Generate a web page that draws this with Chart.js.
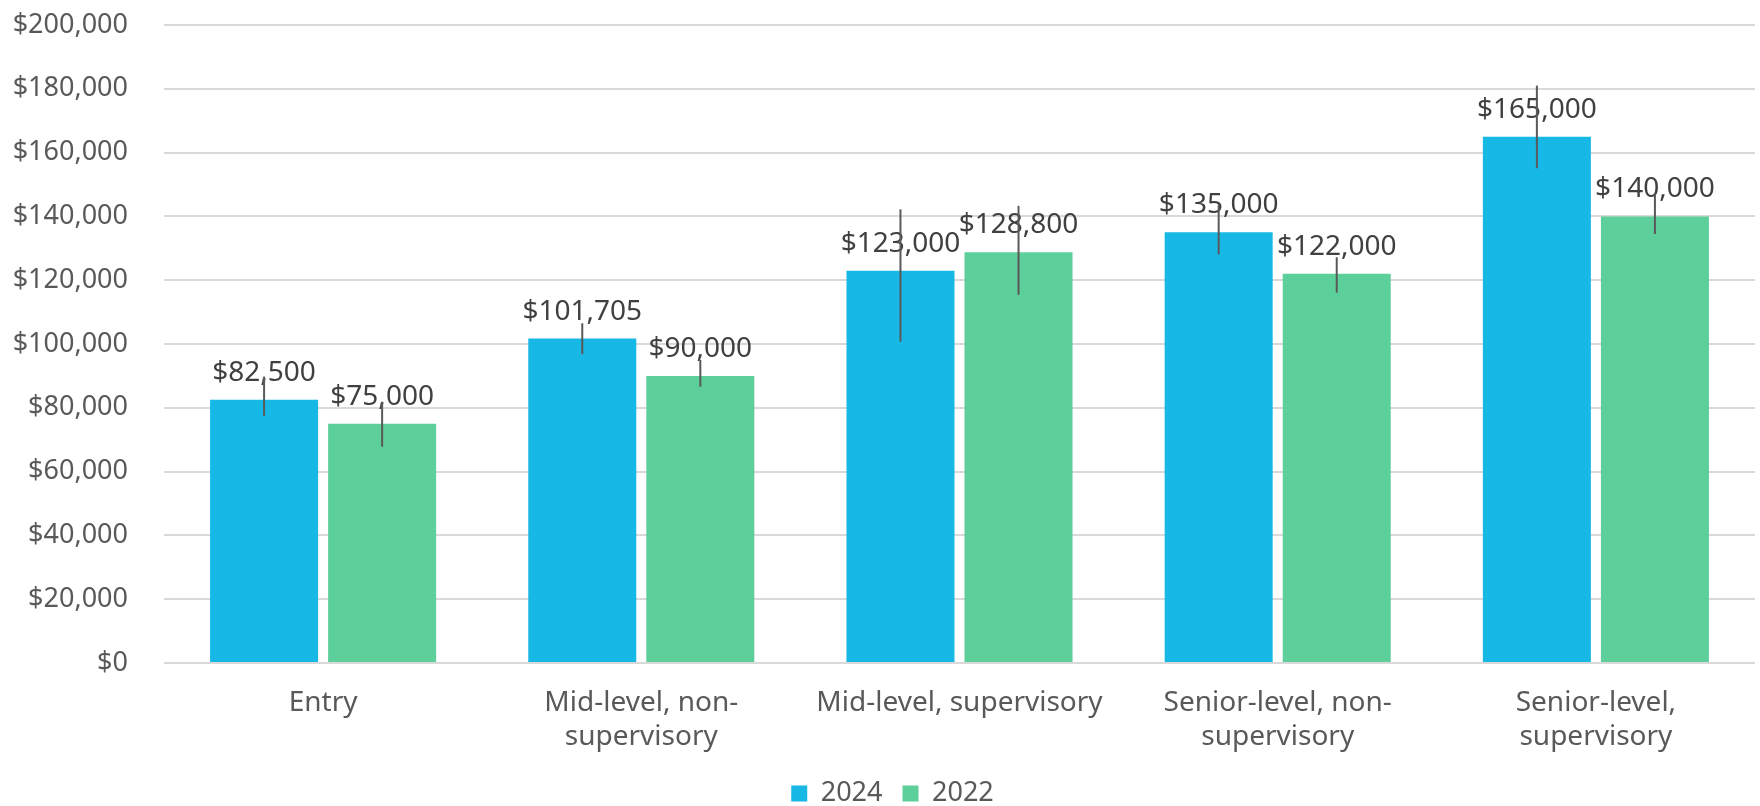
<!DOCTYPE html>
<html>
<head>
<meta charset="utf-8">
<script src="https://cdn.jsdelivr.net/npm/chart.js@4.4.1/dist/chart.umd.min.js"></script>
<style>
  html, body { margin: 0; padding: 0; background: #fff; }
  #wrap { width: 1760px; height: 806px; }
</style>
</head>
<body>
<div id="wrap"><canvas id="salaryChart"></canvas></div>
<script>
const categories = [
    'Entry',
    ['Mid-level, non-', 'supervisory'],
    'Mid-level, supervisory',
    ['Senior-level, non-', 'supervisory'],
    ['Senior-level,', 'supervisory']
];
const values2024 = [82500, 101705, 123000, 135000, 165000];
const values2022 = [75000, 90000, 128800, 122000, 140000];
// error bar ranges
const low2024 = [77500, 96800, 100700, 128100, 155100];
const high2024 = [89800, 106500, 142200, 143500, 181000];
const low2022 = [67800, 86600, 115400, 116100, 134500];
const high2022 = [81900, 95000, 143300, 127200, 147300];

const FONT = "'Noto Sans', sans-serif";
const money = v => '$' + Number(v).toLocaleString('en-US');

const ranges = [
    { low: low2024, high: high2024 },
    { low: low2022, high: high2022 }
];

// draws value labels above bars, then the error lines on top of them
const barExtras = {
    id: 'barExtras',
    afterLayout(chart) {
        // legend sits a little right of centre in the original
        chart.legend.left += 15;
        chart.legend.right += 15;
    },
    afterDatasetsDraw(chart) {
        const ctx = chart.ctx;
        const y = chart.scales.y;
        ctx.save();
        ctx.font = `28px ${FONT}`;
        ctx.fillStyle = '#404040';
        ctx.textAlign = 'center';
        ctx.textBaseline = 'alphabetic';
        chart.data.datasets.forEach((ds, di) => {
            chart.getDatasetMeta(di).data.forEach((bar, i) => {
                ctx.fillText(money(ds.data[i]), bar.x, bar.y - 19);
            });
        });
        ctx.strokeStyle = '#595959';
        ctx.lineWidth = 2;
        chart.data.datasets.forEach((ds, di) => {
            chart.getDatasetMeta(di).data.forEach((bar, i) => {
                ctx.beginPath();
                ctx.moveTo(bar.x, y.getPixelForValue(ranges[di].low[i]));
                ctx.lineTo(bar.x, y.getPixelForValue(ranges[di].high[i]));
                ctx.stroke();
            });
        });
        ctx.restore();
    }
};

new Chart(document.getElementById('salaryChart'), {
    type: 'bar',
    data: {
        labels: categories,
        datasets: [
            { label: '2024', data: values2024, backgroundColor: '#17b8e6' },
            { label: '2022', data: values2022, backgroundColor: '#5dcf9b' }
        ]
    },
    options: {
        responsive: true,
        maintainAspectRatio: false,
        animation: false,
        datasets: {
            bar: { categoryPercentage: 0.742, barPercentage: 0.915 }
        },
        layout: { padding: { top: 25, right: 5, left: 0, bottom: -11 } },
        scales: {
            x: {
                grid: { display: false },
                border: { display: false },
                ticks: {
                    color: '#595959',
                    font: { family: FONT, size: 28, lineHeight: 1.18 },
                    padding: 16,
                    maxRotation: 0,
                    autoSkip: false
                },
                afterFit(scale) { scale.height = 97; }
            },
            y: {
                min: 0,
                max: 200000,
                grid: { color: '#d9d9d9', lineWidth: 2, drawTicks: false },
                border: { display: false },
                ticks: {
                    stepSize: 20000,
                    color: '#595959',
                    font: { family: FONT, size: 27 },
                    padding: 36,
                    callback: v => money(v)
                },
                afterFit(scale) {
                    scale.width = 164;
                    scale.paddingTop = 0;
                    scale.paddingBottom = 0;
                }
            }
        },
        plugins: {
            legend: {
                position: 'bottom',
                labels: {
                    color: '#595959',
                    font: { family: FONT, size: 27 },
                    boxWidth: 16,
                    boxHeight: 16,
                    padding: 20
                }
            },
            tooltip: { enabled: false }
        }
    },
    plugins: [barExtras]
});
</script>
</body>
</html>
